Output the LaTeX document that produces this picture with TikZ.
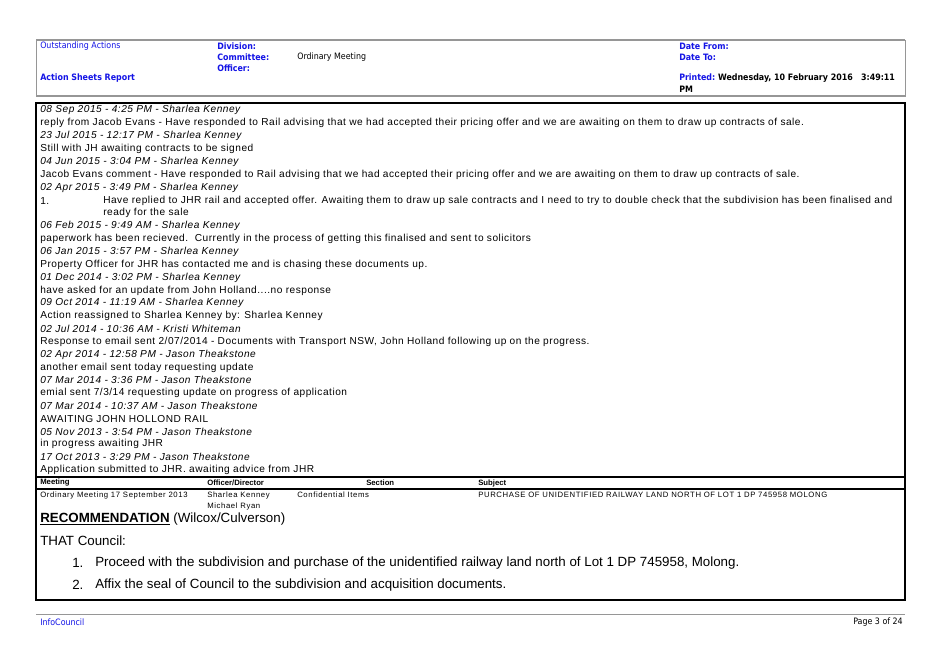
\documentclass[tikz,border=0pt]{standalone}
\usepackage{fontspec}
\setmainfont{Liberation Sans}
\newfontfamily\lgf[LetterSpace=5]{Liberation Sans}
\newfontfamily\smf[LetterSpace=8]{Liberation Sans}
\newfontfamily\hdr{DejaVu Sans Condensed}
\definecolor{ablue}{RGB}{20,20,230}
\definecolor{lgray}{RGB}{150,150,150}
\begin{document}
\begin{tikzpicture}[x=0.75pt,y=-0.75pt,
  lbl/.style={anchor=west,inner sep=0pt},
  hd/.style={lbl,font=\hdr\fontsize{6.6}{7}\selectfont},
  hdb/.style={hd,text=ablue,font=\hdr\bfseries\fontsize{6.6}{7}\selectfont},
  lg/.style={lbl,font=\lgf\fontsize{7.6}{9}\selectfont},
  lgi/.style={lg,font=\lgf\itshape\fontsize{7.6}{9}\selectfont},
  sm/.style={lbl,font=\smf\fontsize{5.8}{7}\selectfont},
  smb/.style={lbl,font=\bfseries\fontsize{5.8}{7}\selectfont},
  big/.style={lbl,font=\fontsize{10}{12}\selectfont}]
\useasboundingbox[fill=white] (0,0) rectangle (939,664);
% header box
\draw[lgray,line width=0.6pt] (36,40) rectangle (905,96);
\draw[lgray,line width=1.5pt] (36,40) -- (905,40);
\draw[lgray,line width=1.5pt] (36,96) -- (905,96);
\node[hd,text=ablue] (oa) at (40,46) {Outstanding Actions};
\node[hdb] (dv) at (217,46) {Division:};
\node[hdb] (cm) at (217,57) {Committee:};
\node[hd] (om) at (297,57) {Ordinary Meeting};
\node[hdb] (of) at (217,68) {Officer:};
\node[hdb] (asr) at (40,78) {Action Sheets Report};
\node[hdb] (df) at (679,46) {Date From:};
\node[hdb] (dt) at (679,57) {Date To:};
\node[hdb] (pr) at (679,78) {Printed:\ \textcolor{black}{Wednesday, 10 February 2016\ \ \ 3:49:11}};
\node[hdb,text=black] (pm) at (679,89) {PM};
% main box
\draw[line width=1pt] (36,103) rectangle (905,600);
\node[lgi] (l1) at (40,110) {08 Sep 2015 - 4:25 PM - Sharlea Kenney};
\node[lg] (l2) at (40,123) {reply from Jacob Evans - Have responded to Rail advising that we had accepted their pricing offer and we are awaiting on them to draw up contracts of sale.};
\node[lgi] (l3) at (40,136) {23 Jul 2015 - 12:17 PM - Sharlea Kenney};
\node[lg] (l4) at (40,149) {Still with JH awaiting contracts to be signed};
\node[lgi] (l5) at (40,162) {04 Jun 2015 - 3:04 PM - Sharlea Kenney};
\node[lg] (l6) at (40,175) {Jacob Evans comment - Have responded to Rail advising that we had accepted their pricing offer and we are awaiting on them to draw up contracts of sale.};
\node[lgi] (l7) at (40,188) {02 Apr 2015 - 3:49 PM - Sharlea Kenney};
\node[lg] (l8a) at (40,201) {1.};
\node[lg] (l8) at (103,201) {Have replied to JHR rail and accepted offer. Awaiting them to draw up sale contracts and I need to try to double check that the subdivision has been finalised and};
\node[lg] (l9) at (103,213) {ready for the sale};
\node[lgi] (l10) at (40,226) {06 Feb 2015 - 9:49 AM - Sharlea Kenney};
\node[lg] (l11) at (40,239) {paperwork has been recieved.\ \ Currently in the process of getting this finalised and sent to solicitors};
\node[lgi] (l12) at (40,252) {06 Jan 2015 - 3:57 PM - Sharlea Kenney};
\node[lg] (l13) at (40,265) {Property Officer for JHR has contacted me and is chasing these documents up.};
\node[lgi] (l14) at (40,278) {01 Dec 2014 - 3:02 PM - Sharlea Kenney};
\node[lg] (l15) at (40,291) {have asked for an update from John Holland....no response};
\node[lgi] (l16) at (40,303) {09 Oct 2014 - 11:19 AM - Sharlea Kenney};
\node[lg] (l17) at (40,316) {Action reassigned to Sharlea Kenney by: Sharlea Kenney};
\node[lgi] (l18) at (40,329) {02 Jul 2014 - 10:36 AM - Kristi Whiteman};
\node[lg] (l19) at (40,342) {Response to email sent 2/07/2014 - Documents with Transport NSW, John Holland following up on the progress.};
\node[lgi] (l20) at (40,355) {02 Apr 2014 - 12:58 PM - Jason Theakstone};
\node[lg] (l21) at (40,368) {another email sent today requesting update};
\node[lgi] (l22) at (40,380) {07 Mar 2014 - 3:36 PM - Jason Theakstone};
\node[lg] (l23) at (40,393) {emial sent 7/3/14 requesting update on progress of application};
\node[lgi] (l24) at (40,406) {07 Mar 2014 - 10:37 AM - Jason Theakstone};
\node[lg] (l25) at (40,419) {AWAITING JOHN HOLLOND RAIL};
\node[lgi] (l26) at (40,432) {05 Nov 2013 - 3:54 PM - Jason Theakstone};
\node[lg] (l27) at (40,444) {in progress awaiting JHR};
\node[lgi] (l28) at (40,457) {17 Oct 2013 - 3:29 PM - Jason Theakstone};
\node[lg] (l29) at (40,470) {Application submitted to JHR. awaiting advice from JHR};
% table
\draw[line width=1pt] (36,477) -- (905,477);
\draw[line width=0.8pt] (36,489) -- (905,489);
\node[smb] (h1) at (40,483) {Meeting};
\node[smb] (h2) at (207,483) {Officer/Director};
\node[smb] (h3) at (366,483) {Section};
\node[smb] (h4) at (478,483) {Subject};
\node[sm] (r1) at (40,495) {Ordinary Meeting 17 September 2013};
\node[sm] (r2) at (207,495) {Sharlea Kenney};
\node[sm] (r2b) at (207,506) {Michael Ryan};
\node[sm] (r3) at (297,495) {Confidential Items};
\node[sm] (r4) at (478,495) {PURCHASE OF UNIDENTIFIED RAILWAY LAND NORTH OF LOT 1 DP 745958 MOLONG};
\node[big] (rec) at (40,519) {\textbf{\underline{RECOMMENDATION}} (Wilcox/Culverson)};
\node[big] (tc) at (40,541) {THAT Council:};
\node[big] (n1) at (72,563) {1.};
\node[big] (t1) at (95,563) {Proceed with the subdivision and purchase of the unidentified railway land north of Lot 1 DP 745958, Molong.};
\node[big] (n2) at (72,585) {2.};
\node[big] (t2) at (95,585) {Affix the seal of Council to the subdivision and acquisition documents.};
% footer
\draw[lgray,line width=0.6pt] (36,614) -- (905,614);
\node[hd,text=ablue] (ic) at (40,622) {InfoCouncil};
\node[hd,anchor=east] (pg) at (903,622) {Page 3 of 24};
\end{tikzpicture}
\end{document}
